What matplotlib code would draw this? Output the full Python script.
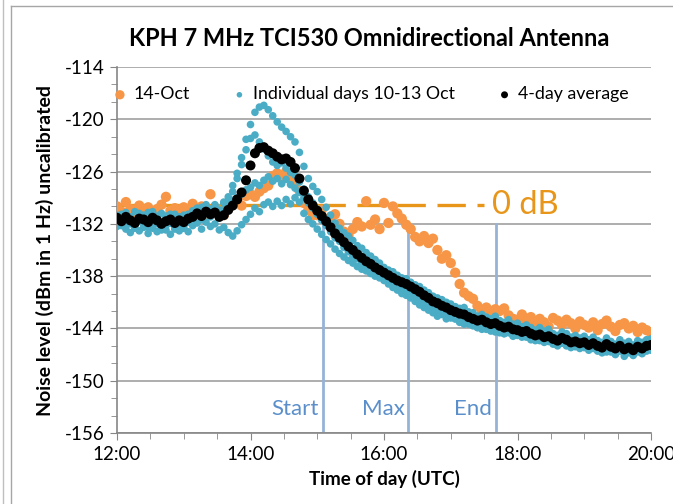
import numpy as np
import matplotlib.pyplot as plt
from matplotlib.lines import Line2D

# sample times: every 4 minutes from 12:00 to 20:00 (hours)
minutes = np.arange(0, 481, 4)
hours = 12 + minutes / 60.0

# 4-day average (dBm in 1 Hz)
avg_4day = [
    -131.3, -131.7, -131.2, -131.6, -131.9, -131.4, -131.5, -131.8, -131.3, -131.6, -132.0, -131.7, -131.5, -131.9, -131.6,
    -131.8, -131.4, -131.2, -130.8, -131.1, -130.6, -130.9, -130.7, -131.2, -131.0, -130.4, -129.9, -129.2, -128.4, -127.0,
    -125.3, -123.9, -123.3, -123.2, -123.6, -123.9, -124.3, -124.6, -124.5, -124.9, -125.6, -126.8, -128.2, -129.2, -129.9,
    -130.5, -131.1, -131.7, -132.4, -133.1, -133.6, -134.1, -134.6, -135.0, -135.5, -135.9, -136.3, -136.6, -137.0, -137.3,
    -137.6, -137.9, -138.2, -138.5, -138.7, -138.9, -139.2, -139.5, -139.8, -140.2, -140.5, -140.9, -141.1, -141.4, -141.6,
    -141.9, -142.1, -142.3, -142.4, -142.7, -142.9, -143.1, -143.0, -143.3, -143.5, -143.4, -143.7, -143.9, -143.8, -144.1,
    -144.2, -144.4, -144.3, -144.6, -144.8, -144.7, -145.0, -144.9, -145.2, -145.4, -145.1, -145.3, -145.6, -145.5, -145.7,
    -145.6, -145.9, -145.7, -146.0, -146.2, -145.8, -146.1, -146.3, -146.0, -146.4, -146.2, -146.5, -146.1, -146.3, -146.0,
    -145.9]

# 14 October
oct14 = [
    -130.0, -130.6, -129.5, -130.3, -130.9, -129.9, -130.4, -130.1, -130.7, -130.3, -129.8, -128.9, -130.5, -130.2, -130.8,
    -130.1, -130.6, -129.7, -130.4, -130.0, -130.9, -128.6, -130.3, -130.7, -131.0, -130.2, -129.6, -129.2, -129.9, -128.8,
    -128.6, -128.9, -128.3, -127.9, -127.6, -126.5, -126.2, -126.8, -126.0, -126.6, -127.3, -128.2, -129.6, -130.4, -131.0,
    -131.0, -130.4, -131.6, -131.2, -130.9, -132.0, -132.9, -133.3, -132.6, -131.8, -132.3, -129.4, -132.1, -131.5, -132.6,
    -129.6, -131.9, -130.0, -130.8, -131.4, -132.1, -132.6, -133.5, -134.0, -133.4, -134.2, -133.7, -135.0, -136.0, -135.6,
    -136.5, -137.6, -138.9, -139.9, -140.3, -140.6, -141.4, -142.0, -141.6, -142.3, -141.8, -142.0, -141.7, -142.5, -142.9,
    -143.0, -142.4, -143.2, -142.7, -143.5, -142.9, -143.3, -143.8, -142.8, -143.1, -143.6, -143.0, -143.4, -144.0, -143.2,
    -143.6, -143.9, -143.3, -144.2, -143.5, -143.1, -143.8, -144.3, -143.6, -143.4, -144.0, -143.7, -144.4, -143.9, -144.2,
    -144.5]

# individual days 10-13 October
oct10 = [
    -131.0, -131.6, -130.7, -131.3, -131.9, -130.8, -131.2, -131.5, -130.6, -131.4, -131.8, -131.1, -130.9, -131.6, -131.2,
    -131.5, -130.9, -130.5, -130.2, -130.8, -129.8, -130.4, -129.9, -130.6, -129.5, -128.9, -127.6, -126.2, -124.4, -122.3,
    -120.6, -119.2, -118.6, -118.4, -118.9, -119.6, -120.3, -120.9, -121.4, -122.0, -122.6, -123.8, -125.4, -126.8, -127.7,
    -128.3, -129.2, -130.1, -131.0, -131.9, -132.5, -133.0, -133.4, -133.9, -134.5, -134.8, -135.3, -135.7, -136.1, -136.5,
    -137.0, -137.3, -137.5, -137.9, -138.2, -138.3, -138.7, -139.0, -139.2, -139.6, -139.9, -140.3, -140.5, -140.7, -141.0,
    -141.2, -141.5, -141.7, -141.6, -142.1, -142.2, -142.6, -142.4, -142.7, -142.9, -142.6, -143.1, -143.3, -143.0, -143.5,
    -143.4, -143.8, -143.6, -143.9, -144.2, -143.9, -144.3, -144.1, -144.6, -144.8, -144.4, -144.6, -145.0, -144.8, -145.1,
    -144.9, -145.3, -145.0, -145.4, -145.6, -145.1, -145.5, -145.8, -145.3, -145.7, -145.5, -145.9, -145.4, -145.6, -145.3,
    -145.2]

oct11 = [
    -131.8, -132.2, -131.5, -132.0, -132.5, -131.7, -132.1, -132.4, -131.6, -132.0, -132.7, -132.2, -131.9, -132.5, -132.0,
    -132.3, -131.8, -131.4, -131.0, -131.5, -130.8, -131.2, -130.6, -131.3, -130.4, -129.5, -128.3, -126.8, -125.2, -123.5,
    -122.2, -121.8, -122.6, -123.4, -124.2, -124.9, -125.3, -125.0, -125.6, -126.1, -126.4, -127.2, -128.0, -128.9, -129.6,
    -130.3, -131.0, -131.5, -132.3, -133.0, -133.7, -134.3, -134.9, -135.2, -135.8, -136.1, -136.6, -136.9, -137.3, -137.6,
    -138.0, -138.2, -138.6, -138.9, -139.1, -139.4, -139.7, -140.1, -140.4, -140.8, -141.0, -141.5, -141.7, -142.0, -142.2,
    -142.5, -142.7, -142.9, -143.1, -143.3, -143.6, -143.7, -143.5, -143.9, -144.1, -143.9, -144.3, -144.5, -144.3, -144.7,
    -144.8, -145.0, -144.9, -145.3, -145.4, -145.2, -145.6, -145.5, -145.8, -146.0, -145.7, -145.9, -146.2, -146.1, -146.3,
    -146.2, -146.5, -146.3, -146.6, -146.8, -146.4, -146.7, -147.0, -146.6, -146.9, -146.8, -147.1, -146.7, -146.9, -146.6,
    -146.5]

oct12 = [
    -131.4, -130.9, -131.8, -131.2, -130.6, -131.5, -131.0, -130.7, -131.7, -131.1, -130.8, -131.4, -131.9, -130.9, -131.3,
    -131.0, -131.6, -130.9, -130.5, -130.1, -130.7, -130.3, -129.8, -130.4, -129.6, -130.1, -129.3, -129.0, -128.6, -128.1,
    -127.8, -127.3, -127.6, -127.0, -126.6, -127.1, -126.8, -127.4, -126.9, -127.5, -127.9, -128.4, -129.0, -129.6, -130.2,
    -130.9, -131.6, -132.2, -132.9, -133.6, -134.0, -134.7, -135.2, -135.7, -136.0, -136.5, -136.9, -137.2, -137.6, -137.9,
    -138.3, -138.6, -138.8, -139.2, -139.5, -139.7, -140.0, -140.4, -140.7, -141.1, -141.4, -141.8, -141.9, -142.3, -142.4,
    -142.8, -142.9, -143.2, -143.0, -143.5, -143.7, -143.9, -143.6, -144.1, -144.3, -144.0, -144.5, -144.6, -144.4, -144.9,
    -143.7, -144.0, -143.8, -144.2, -144.5, -144.1, -144.6, -144.3, -144.9, -145.0, -144.6, -144.9, -145.3, -145.0, -145.4,
    -145.2, -145.6, -145.3, -145.8, -146.0, -145.5, -145.9, -146.2, -145.7, -146.1, -145.9, -146.3, -145.8, -146.0, -145.7,
    -145.6]

oct13 = [
    -132.3, -131.9, -132.6, -133.0, -132.2, -132.8, -132.4, -133.1, -132.5, -132.9, -132.3, -132.7, -133.2, -132.6, -132.8,
    -132.5, -132.9, -132.2, -131.9, -132.6, -131.8, -132.3, -132.0, -132.7, -132.4, -133.0, -133.4, -132.8, -132.1, -131.5,
    -130.9, -130.2, -130.6, -129.8, -129.5, -130.0, -129.4, -129.9, -129.2, -129.7, -129.0, -129.5, -130.8, -131.5, -132.0,
    -132.6, -133.2, -133.8, -134.3, -134.9, -135.4, -135.8, -136.2, -136.5, -136.9, -137.2, -137.4, -137.7, -138.0, -138.2,
    -138.5, -138.9, -139.3, -139.6, -140.0, -140.2, -140.5, -140.9, -141.3, -141.6, -141.9, -142.2, -142.6, -142.4, -142.9,
    -142.6, -142.9, -143.3, -143.5, -143.2, -143.6, -143.9, -144.1, -143.8, -144.2, -144.4, -144.1, -144.6, -144.5, -144.8,
    -144.3, -144.7, -145.0, -144.6, -145.1, -145.4, -144.9, -145.3, -145.7, -145.2, -145.6, -146.0, -145.5, -145.9, -146.2,
    -145.8, -146.3, -146.0, -146.5, -146.1, -146.7, -146.4, -146.9, -146.5, -147.2, -146.7, -147.0, -146.4, -146.8, -146.3,
    -146.0]

# event markers (hours UTC) and the 0 dB reference level
events = {'Start': 15 + 5 / 60, 'Max': 16 + 22 / 60, 'End': 17 + 41 / 60}
ref_level = -129.8
ref_end = 17.5

orange = '#F79646'
aqua = '#4BACC6'
font = ['Lato', 'DejaVu Sans']
plt.rcParams['font.family'] = font

fig = plt.figure(figsize=(6.73, 5.04), dpi=100)
ax = fig.add_axes([117 / 673, 1 - 433 / 504, (651 - 117) / 673, (433 - 67) / 504])

# chart frame like the spreadsheet border
fig.add_artist(Line2D([3 / 673, 3 / 673], [0, 1], color='#BFBFBF', lw=1))
fig.add_artist(Line2D([11 / 673, 11 / 673], [0, 1 - 6 / 504], color='#A6A6A6', lw=1))
fig.add_artist(Line2D([11 / 673, 1], [1 - 6 / 504, 1 - 6 / 504], color='#A6A6A6', lw=1))

ax.scatter(hours, oct14, s=55, color=orange, edgecolors='none', zorder=3, label='14-Oct')
blue_days = [oct10, oct11, oct12, oct13]
for i, day in enumerate(blue_days):
    ax.scatter(hours, day, s=30, color=aqua, edgecolors='none', zorder=4,
               label='Individual days 10-13 Oct' if i == 0 else None)
ax.scatter(hours, avg_4day, s=52, color='black', edgecolors='none', zorder=5, label='4-day average')

# 0 dB dashed reference
ax.plot([12, ref_end], [ref_level, ref_level], color='#E8961A', lw=2.4, dashes=(8.5, 3.5), zorder=2)
ax.text(17.62, ref_level, '0 dB', color='#E8961A', fontsize=23.5, va='center', ha='left', zorder=6)

for name, t in events.items():
    ax.plot([t, t], [-156, -132], color='#95B3D7', lw=2, zorder=2)
    ax.text(t - 0.06, -153.2, name, color='#5B8FCB', fontsize=16, ha='right', va='center')

ax.set_xlim(12, 20)
ax.set_ylim(-156, -114)
ax.set_xticks([12, 14, 16, 18, 20])
ax.set_xticklabels(['12:00', '14:00', '16:00', '18:00', '20:00'], fontsize=13.5)
ax.set_xticks(np.arange(12, 20.01, 0.5), minor=True)
ax.set_yticks(np.arange(-156, -113, 6))
ax.set_yticklabels([str(v) for v in range(-156, -113, 6)], fontsize=13.5)
ax.set_yticks(np.arange(-156, -113, 2), minor=True)
ax.tick_params(axis='both', which='major', length=5, color='#868686', pad=4)
ax.tick_params(axis='both', which='minor', length=4, color='#868686')

ax.grid(axis='y', which='major', color='#A0A0A0', lw=1.2)
ax.set_axisbelow(True)
for side in ['top', 'right']:
    ax.spines[side].set_visible(False)
for side in ['left', 'bottom']:
    ax.spines[side].set_color('#868686')
    ax.spines[side].set_linewidth(1.2)

ax.set_xlabel('Time of day (UTC)', fontsize=13.5, fontweight='bold', labelpad=5)
ax.set_ylabel('Noise level (dBm in 1 Hz) uncalibrated', fontsize=14, fontweight='bold', labelpad=8)
fig.text(369 / 673, 1 - 38 / 504, 'KPH 7 MHz TCI530 Omnidirectional Antenna', fontsize=17,
         fontweight='bold', ha='center', va='center')

leg = ax.legend(loc='center', bbox_to_anchor=(0.475, 0.925), ncol=3, frameon=False, fontsize=12.8,
                handlelength=0.8, handletextpad=0.35, columnspacing=2.4, borderaxespad=0)
for h, sz in zip(leg.legend_handles, [45, 16, 25]):
    h.set_sizes([sz])

fig.savefig('out.png', dpi=100)
